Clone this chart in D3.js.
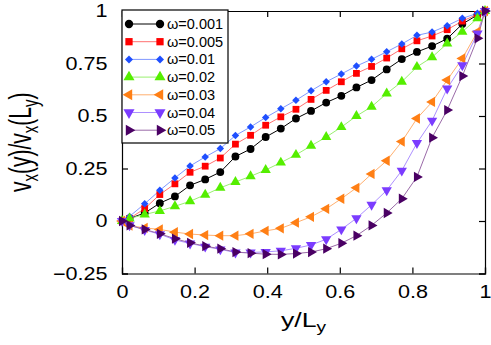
<!DOCTYPE html>
<html>
<head>
<meta charset="utf-8">
<script src="https://cdn.jsdelivr.net/npm/d3@7"></script>
<style>
  body { margin: 0; background: #fff; }
  svg { font-family: 'Liberation Sans', Arial, Helvetica, sans-serif; }
</style>
</head>
<body>
<div id="graf"></div>
<script>
// y/Ly sample positions
const posY = [0, 0.0208, 0.0625, 0.1042, 0.1458, 0.1875, 0.2292, 0.2708, 0.3125,
  0.3542, 0.3958, 0.4375, 0.4792, 0.5208, 0.5625, 0.6042, 0.6458, 0.6875,
  0.7292, 0.7708, 0.8125, 0.8542, 0.8958, 0.9375, 0.9792, 1]

const w001 = [0, 0.012, 0.038, 0.085, 0.117, 0.17, 0.198, 0.233, 0.307, 0.343, 0.40,
  0.44, 0.488, 0.524, 0.564, 0.596, 0.636, 0.671, 0.722, 0.771, 0.805, 0.833,
  0.868, 0.938, 0.981, 1]
const w005 = [0, 0.012, 0.059, 0.126, 0.177, 0.232, 0.261, 0.30, 0.366, 0.408, 0.456,
  0.496, 0.532, 0.579, 0.622, 0.663, 0.703, 0.736, 0.776, 0.82, 0.858, 0.881,
  0.911, 0.952, 0.984, 1]
const w01 = [0, 0.022, 0.082, 0.146, 0.205, 0.262, 0.305, 0.345, 0.407, 0.448, 0.493,
  0.534, 0.575, 0.62, 0.663, 0.70, 0.738, 0.77, 0.806, 0.843, 0.884, 0.90,
  0.93, 0.965, 0.989, 1]
const w02 = [0, 0.012, 0.031, 0.048, 0.07, 0.094, 0.125, 0.158, 0.186, 0.213, 0.243,
  0.278, 0.315, 0.358, 0.40, 0.447, 0.50, 0.544, 0.607, 0.663, 0.734, 0.78,
  0.845, 0.901, 0.965, 1]
const w03 = [0, -0.022, -0.033, -0.04, -0.053, -0.062, -0.067, -0.07, -0.07, -0.061,
  -0.047, -0.035, -0.008, 0.02, 0.058, 0.106, 0.158, 0.224, 0.287, 0.378, 0.488,
  0.567, 0.671, 0.774, 0.901, 1]
const w04 = [0, -0.02, -0.043, -0.063, -0.09, -0.107, -0.122, -0.135, -0.15, -0.15,
  -0.147, -0.142, -0.13, -0.114, -0.087, -0.04, 0.013, 0.077, 0.146, 0.24, 0.371,
  0.478, 0.631, 0.742, 0.893, 1]
const w05 = [0, -0.021, -0.04, -0.061, -0.084, -0.104, -0.12, -0.132, -0.148, -0.153,
  -0.158, -0.159, -0.155, -0.148, -0.132, -0.106, -0.07, -0.021, 0.038, 0.106,
  0.21, 0.397, 0.528, 0.69, 0.87, 1]

const etiquetas = ['ω=0.001', 'ω=0.005', 'ω=0.01', 'ω=0.02', 'ω=0.03', 'ω=0.04', 'ω=0.05']
const ticksX = [0, 0.2, 0.4, 0.6, 0.8, 1]
const ticksY = [-0.25, 0, 0.25, 0.5, 0.75, 1]

const series = [
  { nombre: etiquetas[0], vals: w001, color: '#000000', linea: '#000000', forma: d3.symbolCircle, tam: 48, rot: 0 },
  { nombre: etiquetas[1], vals: w005, color: '#ff0000', linea: '#ff7070', forma: d3.symbolSquare, tam: 46, rot: 0 },
  { nombre: etiquetas[2], vals: w01, color: '#1f4fff', linea: '#8098ff', forma: d3.symbolSquare, tam: 28, rot: 45 },
  { nombre: etiquetas[3], vals: w02, color: '#55ee00', linea: '#99f070', forma: d3.symbolTriangle, tam: 46, rot: 0 },
  { nombre: etiquetas[4], vals: w03, color: '#ff7f15', linea: '#ffb070', forma: d3.symbolTriangle, tam: 46, rot: -90 },
  { nombre: etiquetas[5], vals: w04, color: '#7b3cff', linea: '#ad90ff', forma: d3.symbolTriangle, tam: 46, rot: 180 },
  { nombre: etiquetas[6], vals: w05, color: '#4a0064', linea: '#9a6aa8', forma: d3.symbolTriangle, tam: 46, rot: 90 },
]

const anchoTotal = 491
const altoTotal = 345
const margin = { top: 11, bottom: 71.5, left: 122, right: 6 }
const ancho = anchoTotal - margin.left - margin.right
const alto = altoTotal - margin.top - margin.bottom

const svg = d3.select('#graf')
  .append('svg')
  .attr('width', anchoTotal)
  .attr('height', altoTotal)

const g = svg.append('g')
  .attr('transform', `translate(${margin.left}, ${margin.top})`)

const x = d3.scaleLinear().domain([0, 1]).range([0, ancho])
const y = d3.scaleLinear().domain([-0.25, 1]).range([alto, 0])

// ejes con ticks hacia adentro
const tk = 6
const ejeX = g.append('g')
  .attr('transform', `translate(0, ${alto})`)
  .call(d3.axisBottom(x).tickValues(ticksX).tickSize(-tk).tickPadding(11.5).tickFormat(d3.format('')))
g.append('g')
  .call(d3.axisTop(x).tickValues(ticksX).tickSize(-tk).tickFormat(''))
const ejeY = g.append('g')
  .call(d3.axisLeft(y).tickValues(ticksY).tickSize(-tk).tickPadding(12)
    .tickFormat((d) => (d < 0 ? '\u2212' + Math.abs(d) : d)))
g.append('g')
  .attr('transform', `translate(${ancho}, 0)`)
  .call(d3.axisRight(y).tickValues(ticksY).tickSize(-tk).tickFormat(''))

g.selectAll('.domain').attr('stroke', '#000').attr('stroke-width', 1.2)
g.selectAll('.tick line').attr('stroke', '#000').attr('stroke-width', 1.2)
g.selectAll('.tick text')
  .attr('fill', '#000')
  .attr('font-size', 18)
  .attr('font-family', "'Liberation Sans', Arial, sans-serif")
  .attr('transform', 'scale(1.2,1)')

// lineas y marcadores
const linea = d3.line()
  .x((d, i) => x(posY[i]))
  .y((d) => y(d))

series.forEach((s) => {
  g.append('path')
    .datum(s.vals)
    .attr('fill', 'none')
    .attr('stroke', s.linea)
    .attr('stroke-width', 1)
    .attr('d', linea)
})

series.forEach((s) => {
  g.append('g')
    .selectAll('path')
    .data(s.vals)
    .join('path')
    .attr('d', d3.symbol().type(s.forma).size(s.tam))
    .attr('transform', (d, i) => `translate(${x(posY[i])}, ${y(d)}) rotate(${s.rot})`)
    .attr('fill', s.color)
})

// leyenda
const ley = g.append('g')
ley.append('rect')
  .attr('x', 0)
  .attr('y', -1)
  .attr('width', 106)
  .attr('height', 133)
  .attr('fill', '#fff')
  .attr('stroke', '#000')
  .attr('stroke-width', 1.2)

series.forEach((s, i) => {
  const fy = 13 + i * 17.7
  ley.append('line')
    .attr('x1', 7).attr('x2', 38)
    .attr('y1', fy).attr('y2', fy)
    .attr('stroke', s.linea)
    .attr('stroke-width', 1)
  ;[7, 38].forEach((px) => {
    ley.append('path')
      .attr('d', d3.symbol().type(s.forma).size(s.tam * 1.15))
      .attr('transform', `translate(${px}, ${fy}) rotate(${s.rot})`)
      .attr('fill', s.color)
  })
  ley.append('text')
    .attr('x', 45)
    .attr('y', fy + 5)
    .attr('font-size', 14.5)
    .attr('fill', '#000')
    .text(s.nombre)
})

// titulos
const tx = svg.append('text')
  .attr('transform', `translate(${margin.left + ancho / 2}, 326.5) scale(1.27,1)`)
  .attr('text-anchor', 'middle')
  .attr('font-size', 21)
  .attr('fill', '#000')
tx.append('tspan').text('y/L')
tx.append('tspan').attr('font-size', 15).attr('dy', 5).text('y')

const ty = svg.append('text')
  .attr('transform', `translate(31, ${margin.top + alto / 2}) scale(1.45,1) rotate(-90)`)
  .attr('text-anchor', 'middle')
  .attr('font-size', 21)
  .attr('fill', '#000')
ty.append('tspan').text('v')
ty.append('tspan').attr('font-size', 15).attr('dy', 5).text('x')
ty.append('tspan').attr('dy', -5).text('(y)/v')
ty.append('tspan').attr('font-size', 15).attr('dy', 5).text('x')
ty.append('tspan').attr('dy', -5).text('(L')
ty.append('tspan').attr('font-size', 15).attr('dy', 5).text('y')
ty.append('tspan').attr('dy', -5).text(')')
</script>
</body>
</html>
